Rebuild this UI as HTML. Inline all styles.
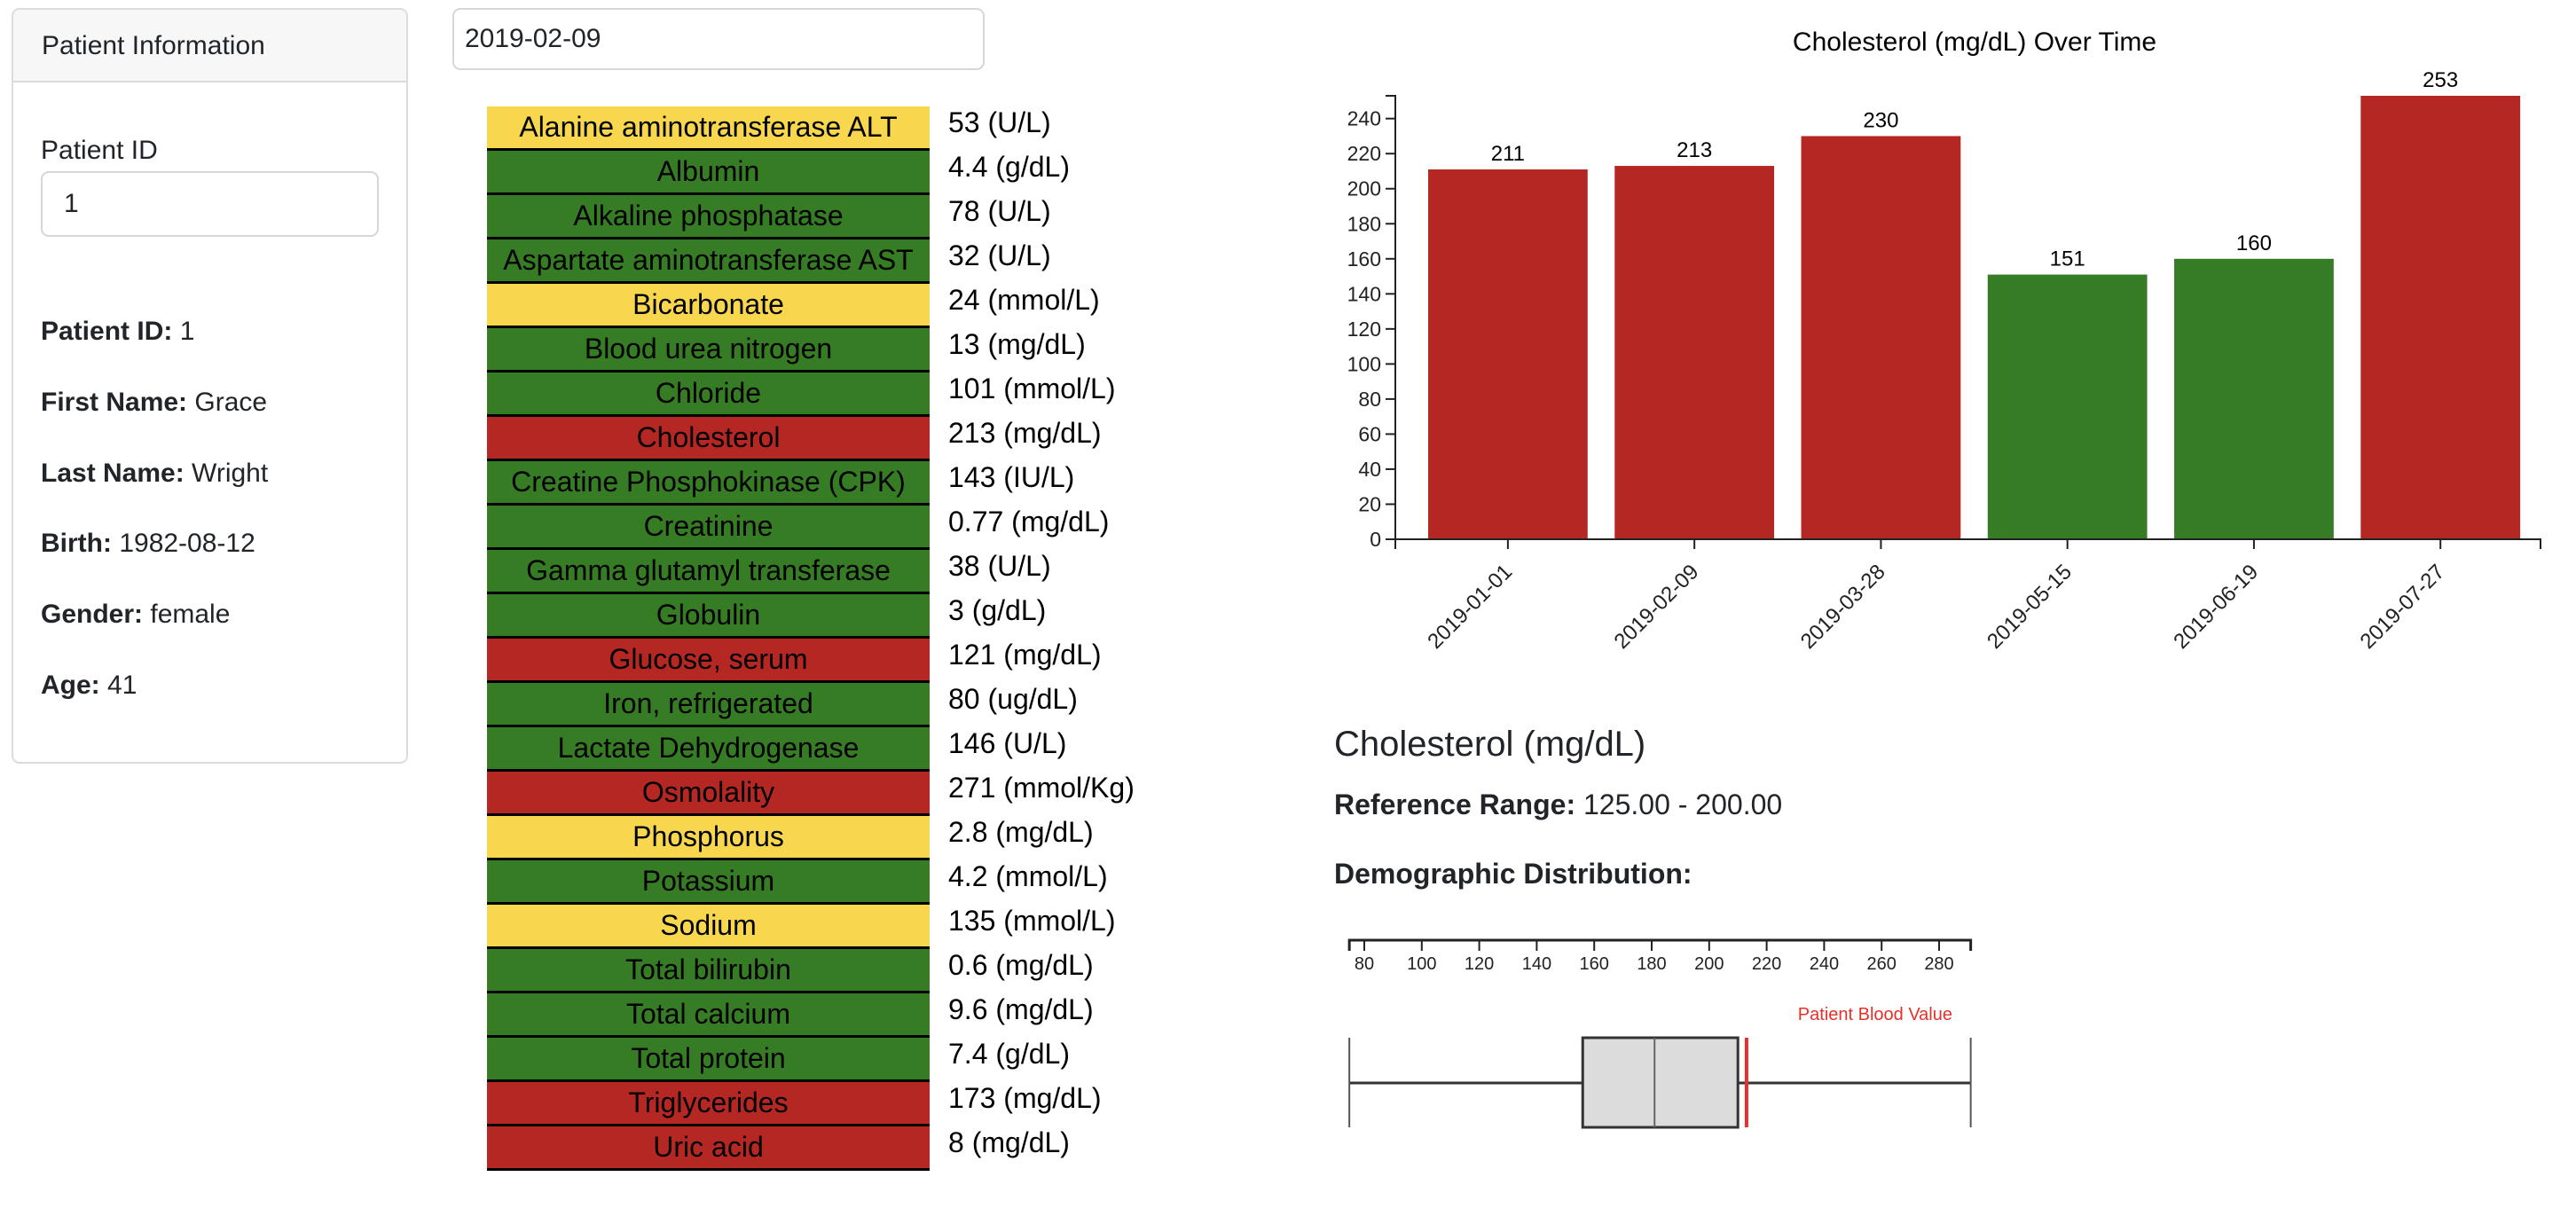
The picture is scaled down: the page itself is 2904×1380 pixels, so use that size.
<!DOCTYPE html>
<html><head><meta charset="utf-8">
<style>
body{margin:0;width:2904px;height:1380px;background:#fff;font-family:"Liberation Sans",sans-serif;color:#212529;position:relative;overflow:hidden}
.abs{position:absolute}
.card{left:13px;top:9px;width:443px;height:848px;border:2px solid #dcdcdc;border-radius:9px;overflow:hidden}
.card-h{left:0;top:0;width:443px;height:82px;background:#f7f7f7;border-bottom:2px solid #dcdcdc;font-size:30px;line-height:82px;padding-left:32px;box-sizing:border-box}
.lbl{font-size:30px;left:31px}
.inp{border:2px solid #d6d6d6;border-radius:9px;box-sizing:border-box;font-size:30px;padding-left:24px}
.row{left:549px;width:499px;height:50px;box-sizing:border-box;border-bottom:3px solid #000;text-align:center;font-size:32px;line-height:47px;color:#000;white-space:nowrap}
.val{left:1069px;font-size:32px;color:#000;line-height:40px;white-space:nowrap}
</style></head><body>
<div class="abs card">
  <div class="abs card-h">Patient Information</div>
  <div class="abs lbl" style="top:142px">Patient ID</div>
  <div class="abs inp" style="left:31px;top:182px;width:381px;height:74px;line-height:70px">1</div>
  <div class="abs lbl" style="top:346px"><b>Patient ID:</b> 1</div>
  <div class="abs lbl" style="top:426px"><b>First Name:</b> Grace</div>
  <div class="abs lbl" style="top:506px"><b>Last Name:</b> Wright</div>
  <div class="abs lbl" style="top:585px"><b>Birth:</b> 1982-08-12</div>
  <div class="abs lbl" style="top:665px"><b>Gender:</b> female</div>
  <div class="abs lbl" style="top:745px"><b>Age:</b> 41</div>
</div>
<div class="abs inp" style="left:510px;top:9px;width:600px;height:70px;line-height:66px;padding-left:12px">2019-02-09</div>
<div id="tbl"></div>

<div class="abs" style="left:1504px;top:817px;font-size:40px;color:#212529">Cholesterol (mg/dL)</div>
<div class="abs" style="left:1504px;top:889px;font-size:32px"><b>Reference Range:</b> 125.00 - 200.00</div>
<div class="abs" style="left:1504px;top:967px;font-size:32px;font-weight:bold">Demographic Distribution:</div>

<svg class="abs" style="left:0;top:0" width="2904" height="1380" id="svg" font-family="Liberation Sans, sans-serif">
<g id="bar"></g>
<g id="box"></g>
</svg>
<script>
const labNames=["Alanine aminotransferase ALT","Albumin","Alkaline phosphatase","Aspartate aminotransferase AST","Bicarbonate","Blood urea nitrogen","Chloride","Cholesterol","Creatine Phosphokinase (CPK)","Creatinine","Gamma glutamyl transferase","Globulin","Glucose, serum","Iron, refrigerated","Lactate Dehydrogenase","Osmolality","Phosphorus","Potassium","Sodium","Total bilirubin","Total calcium","Total protein","Triglycerides","Uric acid"];
const labValues=["53 (U/L)","4.4 (g/dL)","78 (U/L)","32 (U/L)","24 (mmol/L)","13 (mg/dL)","101 (mmol/L)","213 (mg/dL)","143 (IU/L)","0.77 (mg/dL)","38 (U/L)","3 (g/dL)","121 (mg/dL)","80 (ug/dL)","146 (U/L)","271 (mmol/Kg)","2.8 (mg/dL)","4.2 (mmol/L)","135 (mmol/L)","0.6 (mg/dL)","9.6 (mg/dL)","7.4 (g/dL)","173 (mg/dL)","8 (mg/dL)"];
const labStatus=["y","g","g","g","y","g","g","r","g","g","g","g","r","g","g","r","y","g","y","g","g","g","r","r"];
const statusColor={y:"#f8d74f",g:"#367c24",r:"#b52723"};
const tbl=document.getElementById('tbl');
labNames.forEach((n,i)=>{
  const d=document.createElement('div');d.className='abs row';
  d.style.top=(120+i*50)+'px';d.style.background=statusColor[labStatus[i]];d.textContent=n;
  
  
  tbl.appendChild(d);
  const v=document.createElement('div');v.className='abs val';v.style.top=(118+i*50)+'px';v.textContent=labValues[i];
  
  
  tbl.appendChild(v);
});

const dates=["2019-01-01","2019-02-09","2019-03-28","2019-05-15","2019-06-19","2019-07-27"];
const chol=[211,213,230,151,160,253];
const yTicks=[0,20,40,60,80,100,120,140,160,180,200,220,240];
const refHigh=200;
const boxStats=[74.8,156,181,210,291];
const patientValue=213;
const boxTicks=[80,100,120,140,160,180,200,220,240,260,280];

const NS="http://www.w3.org/2000/svg";
function el(p,t,a,txt){const e=document.createElementNS(NS,t);for(const k in a)e.setAttribute(k,a[k]);if(txt!==undefined)e.textContent=txt;p.appendChild(e);return e;}
const bar=document.getElementById('bar');
const X0=1573,X1=2864,Y0=608,yMax=Math.max(...chol);
const y=v=>Y0-(v/yMax)*(Y0-108);
const step=(X1-X0)/6.14, bw=step*0.855, off=step*0.176;
const bx=i=>X0+off+i*step;
let t=el(bar,'text',{x:2226,y:57,'text-anchor':'middle','font-size':30,fill:'#000'},'Cholesterol (mg/dL) Over Time');


chol.forEach((v,i)=>{
  const r=el(bar,'rect',{x:bx(i),y:y(v),width:bw,height:Y0-y(v),fill:v>refHigh?'#b52723':'#367c24'});
  
  
  const l=el(bar,'text',{x:bx(i)+bw/2,y:y(v)-10,'text-anchor':'middle','font-size':24,fill:'#000'},v);
  
  
  const cx=bx(i)+bw/2;
  el(bar,'line',{x1:cx,x2:cx,y1:Y0,y2:Y0+11,stroke:'#222','stroke-width':2});
  const xl=el(bar,'text',{transform:`translate(${cx+6},${Y0+38}) rotate(-45)`,'text-anchor':'end','font-size':24,fill:'#222'},dates[i]);
  
  
});
el(bar,'path',{d:`M${X0},${Y0+11}V${Y0}H${X1}V${Y0+11}`,stroke:'#222','stroke-width':2,fill:'none'});
el(bar,'path',{d:`M${X0-11},108H${X0}V${Y0}H${X0-11}`,stroke:'#222','stroke-width':2,fill:'none'});
yTicks.forEach(v=>{
  el(bar,'line',{x1:X0-11,x2:X0,y1:y(v),y2:y(v),stroke:'#222','stroke-width':2});
  const tl=el(bar,'text',{x:X0-16,y:y(v)+8,'text-anchor':'end','font-size':23,fill:'#222'},v);
  
  
});

const box=document.getElementById('box');
const bxs=v=>1538+(v-80)*3.24;
const AY=1060;
el(box,'path',{d:`M${bxs(boxStats[0])},${AY+12}V${AY}H${bxs(boxStats[4])}V${AY+12}`,stroke:'#222','stroke-width':3,fill:'none'});
boxTicks.forEach(v=>{
  el(box,'line',{x1:bxs(v),x2:bxs(v),y1:AY,y2:AY+12,stroke:'#222','stroke-width':2});
  const tl=el(box,'text',{x:bxs(v),y:AY+33,'text-anchor':'middle','font-size':20,fill:'#222'},v);
  
  
});
const T=1170,B=1271,M=1221;
el(box,'line',{x1:bxs(boxStats[0]),x2:bxs(boxStats[4]),y1:M,y2:M,stroke:'#333','stroke-width':3});
el(box,'line',{x1:bxs(boxStats[0]),x2:bxs(boxStats[0]),y1:T,y2:B,stroke:'#555','stroke-width':2});
el(box,'line',{x1:bxs(boxStats[4]),x2:bxs(boxStats[4]),y1:T,y2:B,stroke:'#555','stroke-width':2});
const rb=el(box,'rect',{x:bxs(boxStats[1]),y:T,width:bxs(boxStats[3])-bxs(boxStats[1]),height:B-T,fill:'#dcdcdc',stroke:'#333','stroke-width':3});


el(box,'line',{x1:bxs(boxStats[2]),x2:bxs(boxStats[2]),y1:T,y2:B,stroke:'#666','stroke-width':2});
const pl=el(box,'line',{x1:bxs(patientValue),x2:bxs(patientValue),y1:T,y2:B,stroke:'#e8302a','stroke-width':4});


const pt=el(box,'text',{x:2201,y:1150,'text-anchor':'end','font-size':20,fill:'#e8302a'},'Patient Blood Value');


</script>
</body></html>
